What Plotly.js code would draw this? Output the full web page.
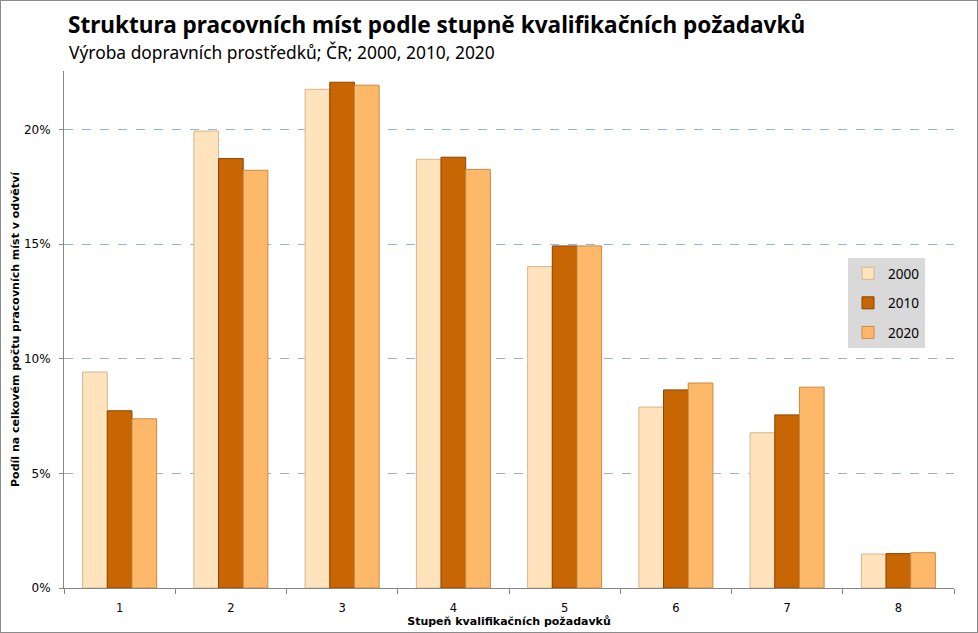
<!DOCTYPE html>
<html>
<head>
<meta charset="utf-8">
<script src="https://cdn.plot.ly/plotly-3.0.1.min.js"></script>
<style>
html,body{margin:0;padding:0;background:#fff;}
#chart{width:976px;height:631px;border:1px solid #8c8c8c;}
</style>
</head>
<body>
<div id="chart"></div>
<script>
const categories = ['1','2','3','4','5','6','7','8'];
const series2000 = [0.0942, 0.1993, 0.2175, 0.1870, 0.1402, 0.0789, 0.0677, 0.0148];
const series2010 = [0.0773, 0.1873, 0.2206, 0.1879, 0.1492, 0.0864, 0.0755, 0.0150];
const series2020 = [0.0738, 0.1822, 0.2193, 0.1826, 0.1492, 0.0894, 0.0876, 0.0154];
const seriesNames = ['2000', '2010', '2020'];
const titleText = 'Struktura pracovních míst podle stupně kvalifikačních požadavků';
const subtitleText = 'Výroba dopravních prostředků; ČR; 2000, 2010, 2020';
const xTitle = 'Stupeň kvalifikačních požadavků';
const yTitle = 'Podíl na celkovém počtu pracovních míst v odvětví';

const fills = ['#FEE3BD', '#C96604', '#FEB86A'];
const edges = ['#D9B48C', '#8A4400', '#C98A42'];
const data = [series2000, series2010, series2020].map((vals, i) => ({
  type: 'bar',
  name: seriesNames[i],
  x: categories,
  y: vals,
  legendgroup: 'g' + i,
  marker: {color: fills[i], line: {color: edges[i], width: 1}},
  hoverinfo: 'x+y+name'
}));

const layout = {
  width: 976, height: 631,
  margin: {l: 63, r: 23, t: 70, b: 44},
  paper_bgcolor: '#ffffff', plot_bgcolor: '#ffffff',
  barmode: 'group', bargap: 0.335, bargroupgap: 0,
  font: {family: 'DejaVu Sans, Verdana, sans-serif', size: 11, color: '#000'},
  title: {
    text: '<b>' + titleText + '</b>',
    font: {family: 'Noto Sans, sans-serif', size: 22.6, color: '#000'},
    xref: 'container', yref: 'container', x: 67/976, xanchor: 'left',
    y: 1 - 24/631, yanchor: 'middle'
  },
  annotations: [{
    text: subtitleText, xref: 'paper', yref: 'paper', showarrow: false,
    x: (66-63)/890, xanchor: 'left', y: 1 + (70-51)/517, yanchor: 'middle',
    font: {family: 'Noto Sans, sans-serif', size: 17.4, color: '#000'}
  }],
  xaxis: {
    type: 'category',
    tickson: 'boundaries', ticks: 'outside', ticklen: 5, tickcolor: '#868686',
    showline: true, linecolor: '#868686', linewidth: 1,
    showgrid: false, zeroline: false, ticklabelstandoff: 9,
    tickfont: {family: 'DejaVu Sans, Verdana, sans-serif', size: 11.5},
    title: {text: '<b>' + xTitle + '</b>', standoff: 1,
      font: {family: 'DejaVu Sans, Verdana, sans-serif', size: 11}}
  },
  yaxis: {
    range: [0, 0.2255], tickvals: [0, 0.05, 0.10, 0.15, 0.20], tickformat: '.0%',
    ticks: 'outside', ticklen: 4, tickcolor: '#868686',
    showline: true, linecolor: '#868686', linewidth: 1,
    showgrid: true, gridcolor: '#95B3D7', griddash: 'dash', gridwidth: 1,
    zeroline: false, ticklabelstandoff: 6,
    tickfont: {family: 'DejaVu Sans, Verdana, sans-serif', size: 12},
    title: {text: '<b>' + yTitle + '</b>', standoff: 2,
      font: {family: 'DejaVu Sans, Verdana, sans-serif', size: 11}}
  },
  showlegend: true,
  legend: {
    x: (847-63)/890, xanchor: 'left', y: (588-258)/517, yanchor: 'top',
    bgcolor: '#D9D9D9', borderwidth: 0, tracegroupgap: 9,
    font: {family: 'Noto Sans, sans-serif', size: 13.5, color: '#000'},
    itemwidth: 30
  }
};

Plotly.newPlot('chart', data, layout, {displayModeBar: false, staticPlot: true});
</script>
</body>
</html>
